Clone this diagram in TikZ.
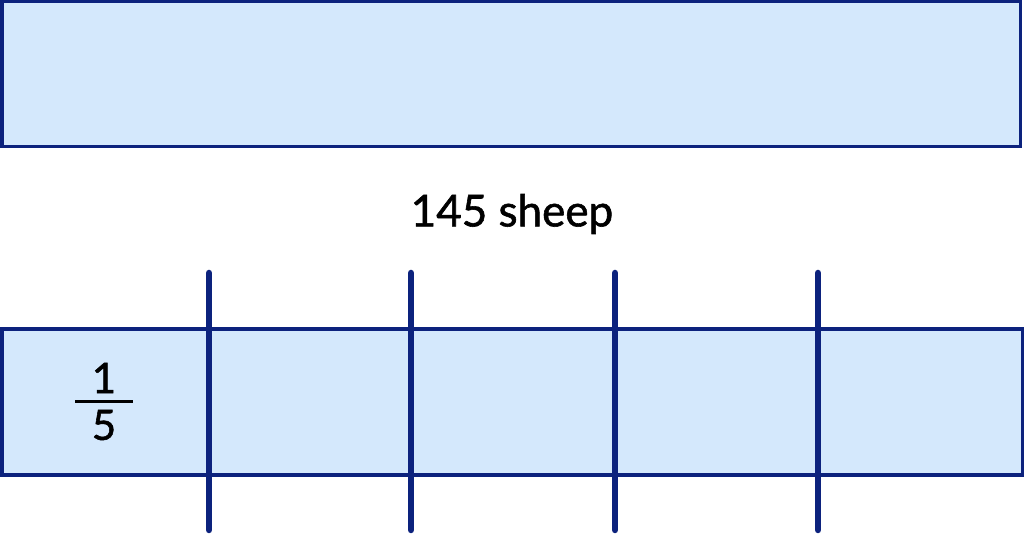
\documentclass[tikz,border=0pt]{standalone}
\usepackage{fontspec}
\setmainfont{Lato}
\newfontfamily\medfont[FakeBold=1.3]{Lato}
\definecolor{barfill}{RGB}{212,232,252}
\definecolor{barline}{RGB}{12,34,125}
\begin{document}
\begin{tikzpicture}[x=1pt,y=1pt,
  barbox/.style={draw=barline,fill=barfill,line width=3.5pt},
  divider/.style={draw=barline,line width=6.5pt,line cap=round},
  lbl/.style={inner sep=0pt,font=\medfont\fontsize{44}{52}\selectfont},
  frac/.style={inner sep=0pt,font=\medfont\fontsize{42}{50}\selectfont}]
\useasboundingbox (0,0) rectangle (1024,534);
% top bar
\path[barbox] (1.75,532.25) rectangle (1020.5,387.5);
\node[lbl] (total) at (512,320) {145 sheep};
% bottom bar
\path[barbox] (1.75,205) rectangle (1022.25,59);
\foreach \i/\x in {1/209,2/411,3/615,4/818}{
  \coordinate (t\i) at (\x,261);
  \coordinate (b\i) at (\x,4);
  \draw[divider] (t\i) -- (b\i);
}
\node[frac] (num) at (104,156) {1};
\node[frac] (den) at (104,109) {5};
\coordinate (fl) at (75,132);
\coordinate (fr) at (133,132);
\draw[draw=black,line width=3pt] (fl) -- (fr);
\end{tikzpicture}
\end{document}
